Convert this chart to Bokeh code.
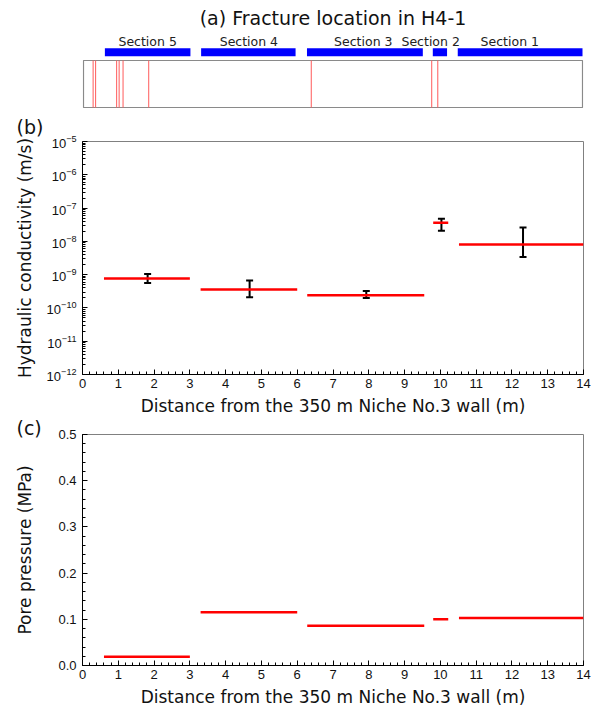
import numpy as np
from bokeh.plotting import figure
from bokeh.layouts import column
from bokeh.models import (Range1d, FixedTicker, Whisker, TeeHead,
                          ColumnDataSource, PrintfTickFormatter)
from bokeh.core.properties import value
from bokeh.embed import file_html
from bokeh.resources import INLINE

# ---------------- data ----------------
sec_names = ["Section 5", "Section 4", "Section 3", "Section 2", "Section 1"]
sec_x0 = [0.6, 3.3, 6.27, 9.8, 10.5]
sec_x1 = [3.0, 5.95, 9.52, 10.2, 14.0]
sec_label_x = [1.8, 4.64, 7.85, 9.74, 11.96]

fracture_x = [0.27, 0.34, 0.93, 1.0, 1.11, 1.83, 6.39, 9.77, 9.94]

int_x0 = [0.6, 3.3, 6.28, 9.8, 10.52]
int_x1 = [3.0, 6.0, 9.55, 10.22, 14.0]

k_value = [7.6e-10, 3.6e-10, 2.4e-10, 3.6e-8, 8.1e-9]
k_err_x = [1.82, 4.67, 7.93, 10.03, 12.31]
k_low = [5.6e-10, 2.1e-10, 2.0e-10, 2.1e-8, 3.4e-9]
k_high = [1.05e-9, 6.7e-10, 3.2e-10, 4.8e-8, 2.6e-8]

pressure = [0.019, 0.115, 0.086, 0.100, 0.103]

x_ticks = list(range(0, 15))
k_ticks = [1e-12, 1e-11, 1e-10, 1e-9, 1e-8, 1e-7, 1e-6, 1e-5]
p_ticks = [0.0, 0.1, 0.2, 0.3, 0.4, 0.5]

TICK_FONT = "Liberation Sans"
FONT = "DejaVu Sans"
W = 599
LEFT = 82            # frame left edge (px)
RIGHT = 16           # space right of frame (px)
PX = 501 / 14.0      # pixels per metre

# ---------------- panel (a) ----------------
pa = figure(width=W, height=108, output_backend="svg", toolbar_location=None,
            x_range=Range1d(-1 / PX, 14 + 1 / PX), y_range=Range1d(-1, 107),
            min_border_left=LEFT, min_border_right=RIGHT, min_border_top=0,
            min_border_bottom=0, x_axis_location=None, y_axis_location=None)
pa.outline_line_color = None
pa.grid.visible = False
pa.quad(left=[0], right=[14], bottom=[0], top=[47], fill_color=None,
        line_color="#8a8a8a", line_width=1.2)
pa.segment(x0=fracture_x, y0=[0] * len(fracture_x), x1=fracture_x,
           y1=[47] * len(fracture_x), line_color="#ff5a5a", line_width=1)
pa.quad(left=sec_x0, right=sec_x1, bottom=[51.3] * 5, top=[59.3] * 5,
        fill_color="#0000ff", line_color=None)
pa.text(x=sec_label_x, y=[66.3] * 5, text=sec_names, text_align="center",
        text_baseline="middle", text_font=value(FONT), text_font_size="12.5px",
        text_color="#222222")
pa.text(x=[7], y=[90], text=["(a) Fracture location in H4-1"], text_align="center",
        text_baseline="middle", text_font=value(FONT), text_font_size="19px",
        text_color="#111111")


def style_axes(p):
    for ax in (p.xaxis[0], p.yaxis[0]):
        ax.axis_line_color = "black"
        ax.major_tick_line_color = "black"
        ax.minor_tick_line_color = "black"
        ax.major_tick_in = 5
        ax.major_tick_out = 0
        ax.minor_tick_in = 3
        ax.minor_tick_out = 0
        ax.major_label_text_font = TICK_FONT
        ax.major_label_text_font_size = "13px"
        ax.major_label_text_color = "#111111"
        ax.axis_label_text_font = FONT
        ax.axis_label_text_font_style = "normal"
        ax.axis_label_text_color = "#111111"
    p.xaxis.axis_label_text_font_size = "17px"
    p.grid.visible = False
    p.outline_line_color = "#808080"
    p.xaxis.ticker = FixedTicker(ticks=x_ticks,
                                 minor_ticks=list(np.round(np.arange(0, 14.01, 0.2), 2)))
    p.xaxis.major_label_standoff = 4
    p.xaxis.axis_label_standoff = 5
    p.xaxis.axis_label = "Distance from the 350 m Niche No.3 wall (m)"


def style_title(p, standoff):
    p.title.align = "left"
    p.title.offset = -66
    p.title.standoff = standoff
    p.title.text_font = FONT
    p.title.text_font_size = "19px"
    p.title.text_font_style = "normal"
    p.title.text_color = "#111111"


# ---------------- panel (b) ----------------
pb = figure(width=W, height=310, output_backend="svg", toolbar_location=None,
            y_axis_type="log", x_range=Range1d(0, 14), y_range=Range1d(1e-12, 1e-5),
            min_border_left=LEFT, min_border_right=RIGHT, min_border_top=33,
            min_border_bottom=44, title="(b)")
style_title(pb, 8)
style_axes(pb)
k_minor = [m * 10.0 ** e for e in range(-12, -5) for m in range(2, 10)]
pb.yaxis.ticker = FixedTicker(ticks=k_ticks, minor_ticks=k_minor)
pb.yaxis.major_label_standoff = 6
pb.yaxis.axis_label_standoff = 9
pb.yaxis.axis_label_text_font_size = "17px"
pb.yaxis.axis_label = "Hydraulic conductivity (m/s)"

pb.segment(x0=int_x0, x1=int_x1, y0=k_value, y1=k_value, line_color="#ff0000",
           line_width=2.5)
err_src = ColumnDataSource(dict(x=k_err_x, lo=k_low, hi=k_high))
pb.add_layout(Whisker(source=err_src, base="x", lower="lo", upper="hi",
                      dimension="height", line_color="black", line_width=2,
                      upper_head=TeeHead(size=7, line_color="black", line_width=2),
                      lower_head=TeeHead(size=7, line_color="black", line_width=2)))

# ---------------- panel (c) ----------------
pc = figure(width=W, height=295, output_backend="svg", toolbar_location=None,
            x_range=Range1d(0, 14), y_range=Range1d(0, 0.5),
            min_border_left=LEFT, min_border_right=RIGHT, min_border_top=15,
            min_border_bottom=48, title="(c)")
style_title(pc, -8)
style_axes(pc)
pc.yaxis.ticker = FixedTicker(ticks=p_ticks,
                              minor_ticks=list(np.round(np.arange(0, 0.501, 0.02), 3)))
pc.yaxis.formatter = PrintfTickFormatter(format="%.1f")
pc.yaxis.major_label_standoff = 6
pc.yaxis.axis_label_standoff = 20
pc.yaxis.axis_label_text_font_size = "17px"
pc.yaxis.axis_label = "Pore pressure (MPa)"
pc.segment(x0=int_x0, x1=int_x1, y0=pressure, y1=pressure, line_color="#ff0000",
           line_width=2.5)

layout = column(pa, pb, pc)
open("out.html", "w").write(file_html(layout, INLINE))
